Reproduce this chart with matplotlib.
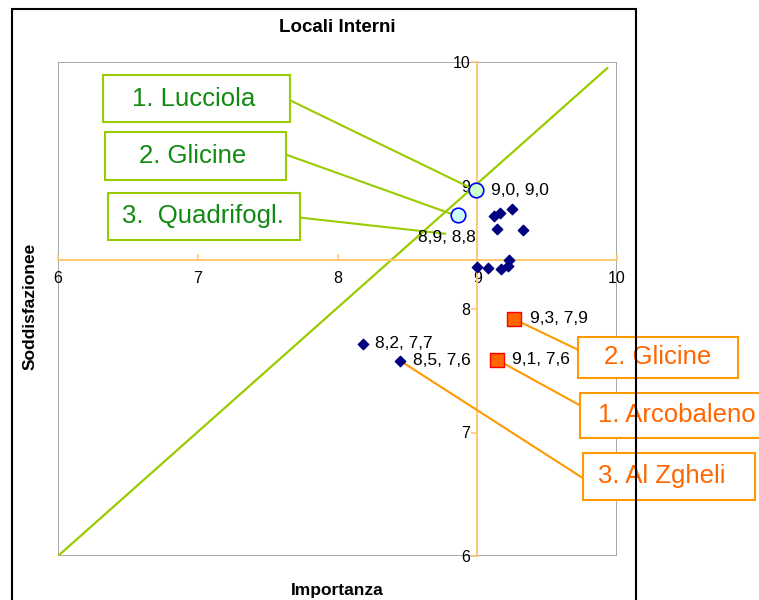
import matplotlib
matplotlib.use("Agg")
import matplotlib.pyplot as plt
from matplotlib.patches import Rectangle

plt.rcParams['font.family'] = ['Liberation Sans', 'DejaVu Sans']

# Dati
other_x = [9.0, 9.08, 9.17, 9.22, 9.23, 9.12, 9.16, 9.25, 9.14, 9.33, 8.18, 8.45]
other_y = [8.34, 8.33, 8.32, 8.35, 8.40, 8.75, 8.78, 8.81, 8.65, 8.64, 7.72, 7.58]
best_x = [8.99, 8.86]
best_y = [8.96, 8.76]
worst_x = [9.26, 9.14]
worst_y = [7.92, 7.59]
diag_x = [6.0, 9.93]
diag_y = [6.0, 9.95]

point_labels = ["9,0, 9,0", "8,9, 8,8", "8,2, 7,7", "8,5, 7,6", "9,3, 7,9", "9,1, 7,6"]
green_names = ["1. Lucciola", "2. Glicine", "3.  Quadrifogl."]
orange_names = ["2. Glicine", "1. Arcobaleno", "3. Al Zgheli"]
ticks = [6, 7, 8, 9, 10]

GREEN = '#99CC00'
GREEN_TXT = '#118A11'
ORANGE = '#FF9900'
ORANGE_TXT = '#FF6600'
AXIS = '#FFC870'

fig = plt.figure(figsize=(7.59, 6.0), dpi=100)
ax = fig.add_axes([58/759, 1-556/600, 559/759, 494/600])
ax.set_xlim(6, 10)
ax.set_ylim(6, 10)

# cornice esterna
fig.patches.append(Rectangle((12/759, -0.02), 624/759, 1.02-9/600,
                             transform=fig.transFigure, fill=False,
                             edgecolor='black', lw=1.5))

# assi incrociati
for s in ['top', 'right']:
    ax.spines[s].set_visible(False)
ax.spines['left'].set_position(('data', 9))
ax.spines['bottom'].set_position(('data', 8.4))
ax.spines['left'].set_color(AXIS)
ax.spines['bottom'].set_color(AXIS)
ax.spines['left'].set_linewidth(1.4)
ax.spines['bottom'].set_linewidth(1.4)
ax.add_patch(Rectangle((0, 0), 1, 1, transform=ax.transAxes, fill=False,
                       edgecolor='#999999', lw=1.2, zorder=0))
ax.set_xticks(ticks)
ax.set_yticks(ticks)
ax.tick_params(axis='both', colors=AXIS, labelcolor='black', labelsize=11.5,
               length=4, width=1.2)
ax.tick_params(axis='x', direction='in', pad=8)
ax.tick_params(axis='y', direction='out', pad=1)

ax.plot(diag_x, diag_y, color=GREEN, lw=1.6, zorder=2)

ax.scatter(other_x, other_y, marker='D', s=28, color='#000080', zorder=4)
ax.scatter(best_x[:1], best_y[:1], marker='o', s=110, facecolor='#CCFFCC',
           edgecolor='#0000FF', lw=1.2, zorder=4)
ax.scatter(best_x[1:], best_y[1:], marker='o', s=110, facecolor='#CCFFFF',
           edgecolor='#0000FF', lw=1.2, zorder=4)
ax.scatter(worst_x, worst_y, marker='s', s=100, facecolor='#FF6600',
           edgecolor='#FF0000', lw=1, zorder=4)

# etichette dei punti
lab_pts = [(best_x[0], best_y[0]), (best_x[1], best_y[1]),
           (other_x[10], other_y[10]), (other_x[11], other_y[11]),
           (worst_x[0], worst_y[0]), (worst_x[1], worst_y[1])]
offsets = [(15, 0), (-40, -22), (12, 0), (13, 0), (16, 0), (15, 0)]
for txt, (px, py), (dx, dy) in zip(point_labels, lab_pts, offsets):
    ax.annotate(txt, (px, py), xytext=(dx, dy), textcoords='offset pixels',
                fontsize=12.5, va='center', ha='left', zorder=5)


def callout(text, box, txt_xy, ha, line_start, line_end, edge, tcolor):
    x0, y0, x1, y1 = box
    ax.plot([line_start[0], line_end[0]], [line_start[1], line_end[1]],
            color=edge, lw=1.5, clip_on=False, zorder=3)
    ax.add_patch(Rectangle((x0, y0), x1 - x0, y1 - y0, facecolor='white',
                           edgecolor=edge, lw=1.5, clip_on=False, zorder=6))
    ax.text(txt_xy[0], txt_xy[1], text, color=tcolor, fontsize=18.5,
            ha=ha, va='center', clip_on=False, zorder=7)


callout(green_names[0], (6.322, 9.514, 7.66, 9.895), (6.97, 9.70), 'center',
        (7.66, 9.69), (best_x[0], best_y[0]), GREEN, GREEN_TXT)
callout(green_names[1], (6.336, 9.045, 7.632, 9.433), (6.96, 9.24), 'center',
        (7.632, 9.25), (best_x[1] - 0.02, best_y[1]), GREEN, GREEN_TXT)
callout(green_names[2], (6.358, 8.559, 7.732, 8.939), (7.04, 8.75), 'center',
        (7.732, 8.74), (8.77, 8.61), GREEN, GREEN_TXT)

callout(orange_names[0], (9.721, 7.441, 10.866, 7.773), (10.29, 7.61), 'center',
        (9.721, 7.67), (worst_x[0], worst_y[0]), ORANGE, ORANGE_TXT)
callout(orange_names[1], (9.735, 6.955, 11.2, 7.32), (9.864, 7.14), 'left',
        (9.735, 7.22), (worst_x[1], worst_y[1]), ORANGE, ORANGE_TXT)
callout(orange_names[2], (9.757, 6.453, 10.99, 6.834), (9.864, 6.648), 'left',
        (9.757, 6.63), (other_x[11], other_y[11]), ORANGE, ORANGE_TXT)

fig.text(337/759, 1-28/600, "Locali Interni", ha='center', va='center',
         fontsize=13.5, fontweight='bold')
fig.text(337/759, 1-590/600, "Importanza", ha='center', va='center',
         fontsize=12.5, fontweight='bold')
fig.text(30/759, 1-306/600, "Soddisfazionee", ha='center', va='center',
         rotation=90, fontsize=12.5, fontweight='bold')

fig.savefig("out.png", dpi=100)
